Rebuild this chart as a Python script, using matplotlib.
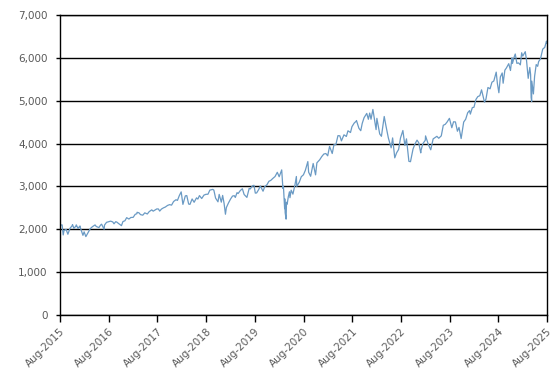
#S&P 500 style index level, Aug 2015 - Aug 2025
import numpy as np
import pandas as pd
import matplotlib
matplotlib.use("Agg")
import matplotlib.pyplot as plt
import matplotlib.dates as mdates
from matplotlib.ticker import FuncFormatter

#Readings taken off the chart (date, level)
dates_2015 = ["2015-08-03","2015-08-17","2015-08-25","2015-08-31","2015-09-16","2015-09-29",
              "2015-10-15","2015-10-30","2015-11-03","2015-11-13","2015-11-30","2015-12-01",
              "2015-12-14","2015-12-29","2015-12-31"]
vals_2015  = [2098,2102,1868,1972,1996,1884,2023,2079,2109,2023,2080,2103,2021,2078,2044]

dates_2016 = ["2016-01-20","2016-01-29","2016-02-11","2016-02-29","2016-03-15","2016-03-31",
              "2016-04-20","2016-04-29","2016-05-19","2016-05-31","2016-06-08","2016-06-27",
              "2016-06-30","2016-07-15","2016-07-29","2016-08-15","2016-08-31","2016-09-09",
              "2016-09-22","2016-09-30","2016-10-14","2016-11-04","2016-11-15","2016-11-30",
              "2016-12-13","2016-12-30"]
vals_2016  = [1859,1940,1829,1932,2015,2060,2102,2065,2040,2097,2119,2001,2099,2162,2174,
              2190,2171,2128,2177,2168,2133,2085,2180,2199,2271,2239]

dates_2017 = ["2017-01-13","2017-01-31","2017-02-15","2017-02-28","2017-03-01","2017-03-15",
              "2017-03-27","2017-04-13","2017-04-28","2017-05-17","2017-05-31","2017-06-19",
              "2017-06-30","2017-07-27","2017-08-08","2017-08-18","2017-08-31","2017-09-15",
              "2017-09-29","2017-10-16","2017-10-31","2017-11-15","2017-11-30","2017-12-18",
              "2017-12-29"]
vals_2017  = [2275,2279,2349,2364,2396,2385,2342,2329,2384,2357,2412,2453,2423,2475,2474,
              2425,2472,2500,2519,2557,2575,2564,2648,2690,2674]

dates_2018 = ["2018-01-12","2018-01-26","2018-02-08","2018-02-26","2018-03-09","2018-03-23",
              "2018-04-02","2018-04-18","2018-05-03","2018-05-21","2018-05-31","2018-06-12",
              "2018-06-29","2018-07-16","2018-07-31","2018-08-15","2018-08-29","2018-09-20",
              "2018-09-28","2018-10-11","2018-10-29","2018-11-07","2018-11-23","2018-12-03",
              "2018-12-14","2018-12-24","2018-12-31"]
vals_2018  = [2786,2873,2581,2780,2786,2588,2582,2708,2630,2733,2705,2786,2718,2798,2816,
              2818,2914,2931,2914,2728,2641,2814,2633,2790,2600,2351,2507]

dates_2019 = ["2019-01-15","2019-01-31","2019-02-15","2019-02-28","2019-03-08","2019-03-21",
              "2019-03-29","2019-04-15","2019-04-30","2019-05-13","2019-05-31","2019-06-03",
              "2019-06-20","2019-06-28","2019-07-15","2019-07-26","2019-08-05","2019-08-15",
              "2019-08-30","2019-09-12","2019-10-02","2019-10-15","2019-10-31","2019-11-15",
              "2019-11-29","2019-12-16","2019-12-31"]
vals_2019  = [2610,2704,2775,2784,2743,2855,2834,2906,2946,2812,2752,2744,2954,2942,3014,
              3026,2844,2848,2926,3010,2888,2996,3038,3120,3141,3191,3231]

dates_2020 = ["2020-01-17","2020-01-31","2020-02-19","2020-02-28","2020-03-03","2020-03-12",
              "2020-03-13","2020-03-16","2020-03-23","2020-03-26","2020-03-31","2020-04-08",
              "2020-04-17","2020-04-21","2020-04-30","2020-05-13","2020-05-29","2020-06-08",
              "2020-06-11","2020-06-30","2020-07-15","2020-07-31","2020-08-14","2020-09-02",
              "2020-09-08","2020-09-23","2020-10-12","2020-10-30","2020-11-09","2020-11-30",
              "2020-12-15","2020-12-31"]
vals_2020  = [3330,3226,3386,2954,3003,2481,2711,2386,2237,2630,2585,2750,2875,2737,2912,
              2820,3044,3232,3002,3100,3227,3271,3373,3580,3332,3237,3535,3270,3551,3622,
              3695,3756]

dates_2021 = ["2021-01-15","2021-01-29","2021-02-12","2021-03-04","2021-03-17","2021-03-31",
              "2021-04-16","2021-04-30","2021-05-12","2021-05-31","2021-06-18","2021-06-30",
              "2021-07-19","2021-07-30","2021-08-16","2021-08-31","2021-09-02","2021-09-20",
              "2021-10-04","2021-10-15","2021-10-29","2021-11-18","2021-11-30","2021-12-10",
              "2021-12-20"]
vals_2021  = [3768,3714,3934,3768,3974,3973,4185,4181,4063,4204,4166,4298,4258,4395,4479,
              4523,4537,4358,4300,4471,4605,4704,4567,4712,4568]

dates_2022 = ["2022-01-03","2022-01-27","2022-02-02","2022-02-23","2022-03-08","2022-03-29",
              "2022-04-11","2022-04-29","2022-05-20","2022-05-31","2022-06-16","2022-06-30",
              "2022-07-15","2022-07-29","2022-08-16","2022-08-31","2022-09-12","2022-09-30",
              "2022-10-12","2022-10-31","2022-11-15","2022-11-30","2022-12-13","2022-12-28",
              "2022-12-30"]
vals_2022  = [4796,4326,4589,4225,4170,4632,4413,4132,3901,4132,3667,3785,3863,4130,4305,
              3955,4110,3586,3577,3872,3992,4080,4019,3783,3840]

dates_2023 = ["2023-01-13","2023-01-31","2023-02-02","2023-02-24","2023-03-13","2023-03-31",
              "2023-04-14","2023-04-28","2023-05-12","2023-05-31","2023-06-15","2023-06-30",
              "2023-07-14","2023-07-31","2023-08-18","2023-08-31","2023-09-14","2023-09-29",
              "2023-10-11","2023-10-27","2023-11-15","2023-11-30","2023-12-15","2023-12-29"]
vals_2023  = [3999,4077,4179,3970,3855,4109,4138,4169,4124,4180,4426,4450,4505,4589,4370,
              4508,4505,4288,4377,4117,4502,4568,4719,4770]

dates_2024 = ["2024-01-04","2024-01-19","2024-01-31","2024-02-15","2024-02-29","2024-03-15",
              "2024-03-28","2024-04-19","2024-04-30","2024-05-15","2024-05-31","2024-06-14",
              "2024-06-28","2024-07-16","2024-07-25","2024-08-05","2024-08-16","2024-08-30",
              "2024-09-06","2024-09-19","2024-09-30","2024-10-18","2024-10-31","2024-11-11",
              "2024-11-15","2024-11-29","2024-12-06","2024-12-18","2024-12-31"]
vals_2024  = [4688,4840,4846,5030,5096,5117,5254,4967,5036,5308,5278,5432,5460,5667,5399,
              5186,5554,5648,5408,5713,5762,5864,5705,6001,5870,6032,6090,5872,5882]

dates_2025 = ["2025-01-13","2025-01-23","2025-01-31","2025-02-19","2025-02-28","2025-03-13",
              "2025-03-25","2025-03-31","2025-04-04","2025-04-08","2025-04-09","2025-04-21",
              "2025-04-30","2025-05-12","2025-05-23","2025-05-30","2025-06-13","2025-06-30",
              "2025-07-15","2025-07-28","2025-07-31"]
vals_2025  = [5836,6119,6041,6144,5955,5522,5776,5612,5074,4982,5457,5158,5569,5844,5802,
              5912,5977,6205,6244,6390,6339]

tick_years = list(range(2015, 2026))

def main():
    all_dates = (dates_2015+dates_2016+dates_2017+dates_2018+dates_2019+dates_2020+
                 dates_2021+dates_2022+dates_2023+dates_2024+dates_2025)
    all_vals  = (vals_2015+vals_2016+vals_2017+vals_2018+vals_2019+vals_2020+
                 vals_2021+vals_2022+vals_2023+vals_2024+vals_2025)
    s = pd.Series(all_vals, index=pd.to_datetime(all_dates))

    fig = plt.figure(figsize=(5.56,3.76), dpi=100)
    ax  = fig.add_axes([60/556, 1-315/376, 487/556, 300/376])

    ax.plot(s.index, s.values, color="#6a9ac4", linewidth=0.9)

    ax.set_xlim(pd.Timestamp("2015-08-01"), pd.Timestamp("2025-08-01"))
    ax.set_ylim(0, 7000)
    ax.set_yticks(np.arange(0, 7001, 1000))
    ax.yaxis.set_major_formatter(FuncFormatter(lambda v, p: f"{int(v):,}"))
    ax.grid(axis="y", color="black", linewidth=1)
    ax.set_axisbelow(True)

    ticks = [pd.Timestamp(f"{y}-08-01") for y in tick_years]
    ax.set_xticks(ticks)
    ax.set_xticklabels([t.strftime("Aug-%Y") for t in ticks], rotation=45,
                       ha="right", rotation_mode="anchor")

    ax.tick_params(axis="x", length=5, width=1, colors="black", labelcolor="#595959",
                   labelsize=7.5, pad=3)
    ax.tick_params(axis="y", length=3, width=1, colors="black", labelcolor="#595959",
                   labelsize=7.5, pad=6)
    for sp in ax.spines.values():
        sp.set_color("black")
        sp.set_linewidth(1)

    fig.savefig("out.png", dpi=100)

if __name__=="__main__":
    main()
